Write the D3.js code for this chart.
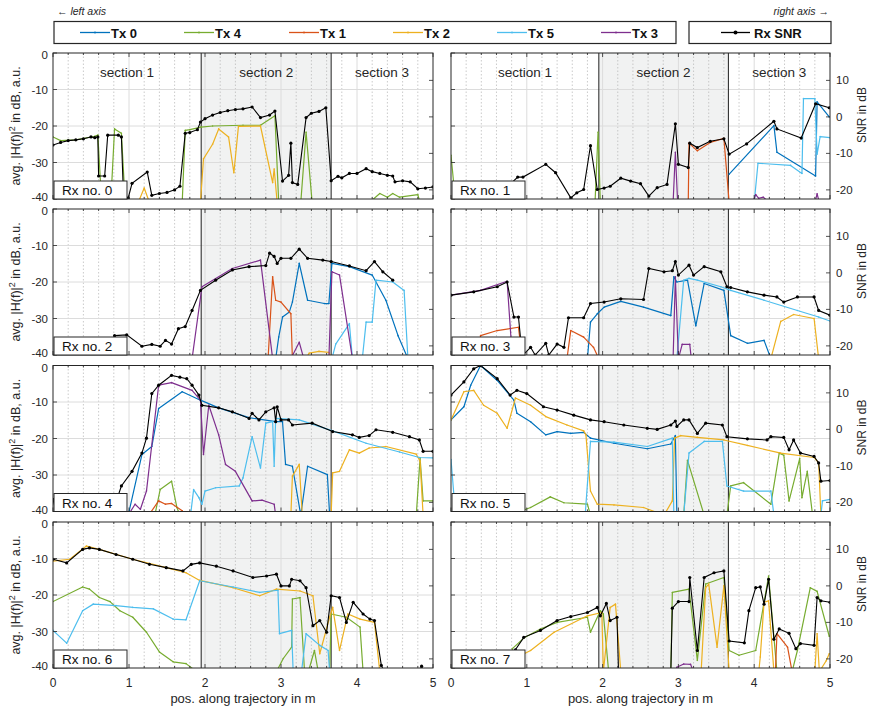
<!DOCTYPE html>
<html><head><meta charset="utf-8">
<script src="https://cdn.jsdelivr.net/npm/d3@7"></script>
<style>
body{margin:0;background:#fff;}
text{font-family:"Liberation Sans",Arial,Helvetica,sans-serif;}
</style></head>
<body><svg id="c" width="870" height="713"></svg>
<script>
// ---------------- DATA ----------------
const txNames = ["Tx 0","Tx 4","Tx 1","Tx 2","Tx 5","Tx 3"];
const txColors = ["#0072BD","#77AC30","#D95319","#EDB120","#4DBEEE","#7E2F8E"];
const xTickLabels = [0,1,2,3,4,5];
const leftTicks = [0,-10,-20,-30,-40];
const rightTicks = [10,0,-10,-20];
const sectionNames = ["section 1","section 2","section 3"];
const sectionBounds = [0,1.95,3.66,5];
const rxNames = ["Rx no. 0","Rx no. 1","Rx no. 2","Rx no. 3","Rx no. 4","Rx no. 5","Rx no. 6","Rx no. 7"];

// Rx 0  (Tx values on left axis in dB, SNR on right axis in dB)
const rx0_snr=[[0,-7.7],[0.1,-7],[0.2,-6.5],[0.3,-6.3],[0.4,-6],[0.5,-5.5],[0.55,-5.7],[0.59,-5.5],[0.6,-16.2],[0.68,-16.2],[0.72,-5],[0.86,-5],[0.9,-5.5],[0.93,-23],[0.99,-22.2],[1.04,-18.2],[1.24,-15.1],[1.3,-21.5],[1.4,-21],[1.5,-20.7],[1.6,-20],[1.67,-19],[1.74,-4.5],[1.8,-4.3],[1.9,-3.5],[1.94,-1.4],[2.0,-0.5],[2.1,0.5],[2.2,1.2],[2.3,1.7],[2.4,2],[2.5,2.2],[2.62,2.7],[2.73,-0.2],[2.85,0.5],[2.92,1.6],[3.02,-17.6],[3.1,-16],[3.13,-7.2],[3.15,-18],[3.22,-18.5],[3.33,-0.2],[3.4,1],[3.5,1.5],[3.59,2.5],[3.66,-17.5],[3.75,-16.3],[3.8,-16.7],[3.9,-15.5],[4.0,-15.5],[4.12,-14.2],[4.2,-15],[4.3,-15.5],[4.4,-16],[4.47,-16.2],[4.5,-17.8],[4.6,-17.5],[4.7,-17.8],[4.8,-19.7],[4.9,-19.5],[5,-19.2]];
const rx0_tx0=[];
const rx0_tx4=[[0,-23],[0.1,-24],[0.3,-23.8],[0.55,-22.8],[0.59,-22.5],[0.64,-41],[0.76,-41],[0.81,-20.8],[0.9,-22],[0.95,-41],[1.7,-41],[1.74,-21.2],[1.8,-21],[1.95,-20.3],[2.1,-20],[2.5,-19.8],[2.73,-19.8],[2.92,-17.2],[2.97,-41],[3.26,-41],[3.33,-21.7],[3.41,-41],[4.16,-41],[4.3,-38.5],[4.4,-39.5],[4.47,-38.5],[4.56,-39.5],[4.8,-38.8],[4.83,-41]];
const rx0_tx1=[];
const rx0_tx2=[[1.12,-41],[1.2,-37],[1.27,-41],[1.94,-41],[1.98,-29],[2.1,-25],[2.18,-20.8],[2.31,-23],[2.38,-32.8],[2.44,-20.1],[2.73,-20],[2.89,-35.5],[2.91,-31.8],[2.95,-41]];
const rx0_tx5=[];
const rx0_tx3=[];

// Rx 1
const rx1_snr=[[0.52,-23.5],[0.88,-16.5],[0.95,-16.5],[1.25,-13],[1.38,-15.3],[1.58,-22.2],[1.66,-20.8],[1.75,-19.9],[1.84,-7.9],[1.93,-19.9],[2.02,-19.5],[2.1,-19],[2.24,-16.8],[2.37,-17.6],[2.5,-18.3],[2.61,-21.7],[2.72,-19.4],[2.85,-18.5],[2.96,-1.9],[3.0,-13],[3.13,-13.9],[3.15,-7.2],[3.25,-8.4],[3.42,-6.7],[3.6,-6],[3.67,-10.2],[3.9,-7.4],[4.26,-1.2],[4.3,-3.3],[4.62,-5.8],[4.81,3.6],[4.99,2.5]];
const rx1_tx0=[[3.67,-33.2],[4.26,-19.9],[4.3,-27.2],[4.81,-33.7],[4.83,-13.4],[4.99,-17.5]];
const rx1_tx4=[[0,-28],[0.06,-41],[1.9,-41],[1.94,-21.7],[1.97,-41]];
const rx1_tx1=[[3.13,-41],[3.14,-24.7],[3.25,-26.8],[3.42,-24.5],[3.6,-23.4],[3.67,-41]];
const rx1_tx2=[];
const rx1_tx5=[[4.0,-41],[4.05,-30.2],[4.48,-30.8],[4.63,-33],[4.65,-12.5],[4.8,-12.5],[4.83,-27.7],[4.87,-22.9],[5,-23.2]];
const rx1_tx3=[[2.93,-41],[2.96,-27.2],[2.99,-41],[3.98,-41],[4.02,-38.8],[4.06,-39.8],[4.12,-39.5],[4.2,-41],[4.8,-41],[4.83,-38.6],[4.86,-41]];

// Rx 2
const rx2_snr=[[0.81,-17.2],[0.97,-17],[1.17,-20.1],[1.3,-19.6],[1.41,-20.1],[1.48,-18.5],[1.56,-19.5],[1.65,-15.3],[1.74,-14.7],[1.83,-10.3],[1.94,-4.8],[2.14,-2],[2.36,0.8],[2.58,1.7],[2.8,2],[2.85,5.4],[2.91,4.5],[2.95,2.6],[3.0,4],[3.13,4],[3.24,6.5],[3.35,4],[3.55,3.5],[3.66,3.1],[3.9,1.9],[4.12,0.6],[4.23,3.1],[4.34,0.3],[4.47,-2]];
const rx2_tx0=[[2.93,-41],[2.97,-35.1],[3.02,-29.6],[3.11,-28.2],[3.15,-25.5],[3.24,-14.9],[3.35,-25],[3.57,-25.9],[3.63,-25.9],[3.67,-14.9],[3.9,-15.8],[4.2,-18.1],[4.38,-25],[4.54,-34.7],[4.67,-41]];
const rx2_tx4=[];
const rx2_tx1=[[2.83,-41],[2.89,-18.6],[2.93,-25],[3.0,-25.5],[3.13,-28.7],[3.15,-41]];
const rx2_tx2=[[3.33,-41],[3.37,-39.5],[3.5,-39],[3.63,-39.3],[3.67,-41]];
const rx2_tx5=[[3.67,-41],[3.72,-37],[3.9,-31.4],[3.94,-41],[4.07,-41],[4.12,-31],[4.2,-31],[4.25,-19.5],[4.47,-20],[4.62,-22.3],[4.67,-41]];
const rx2_tx3=[[1.83,-41],[1.96,-21.3],[2.36,-16.3],[2.73,-14],[2.89,-41],[3.13,-41],[3.24,-36.5],[3.3,-41],[3.63,-41],[3.67,-17.2],[3.77,-18.1],[3.94,-41]];

// Rx 3
const rx3_snr=[[0,-6.1],[0.3,-5.2],[0.61,-3.8],[0.74,-2.5],[0.83,-12.1],[0.89,-12.1],[0.94,-22.7],[1.05,-20.4],[1.11,-22.5],[1.25,-19.3],[1.29,-22.5],[1.4,-19.5],[1.49,-20.4],[1.55,-12.3],[1.75,-12.3],[1.84,-8.4],[2.02,-8],[2.24,-7.1],[2.54,-7.3],[2.61,1.2],[2.81,0.3],[2.92,0.6],[2.96,3.1],[3.0,-0.6],[3.14,2.1],[3.2,-0.6],[3.34,1.7],[3.56,0.3],[3.64,-3.8],[3.69,-4],[3.91,-5.2],[4.13,-6.1],[4.3,-6.6],[4.39,-8],[4.57,-6.6],[4.79,-6.6],[4.85,-10.3],[5,-11.6]];
const rx3_tx0=[[1.8,-41],[1.84,-31],[1.93,-28.7],[2.02,-26.9],[2.24,-25.3],[2.54,-26.9],[2.9,-29.2],[2.94,-18.6],[2.98,-20],[3.12,-19.5],[3.23,-32],[3.34,-20.4],[3.6,-22.3],[3.69,-34.7],[3.91,-36.8],[4.13,-36],[4.22,-41]];
const rx3_tx4=[];
const rx3_tx1=[[0.36,-41],[0.39,-34.7],[0.61,-33.3],[0.89,-32.4],[0.94,-41],[1.53,-41],[1.58,-33.3],[1.75,-35.1],[1.88,-37.9],[1.95,-41]];
const rx3_tx2=[[4.22,-41],[4.35,-30.8],[4.52,-28.9],[4.79,-30],[4.85,-41]];
const rx3_tx5=[[2.98,-41],[3.07,-19.5],[3.14,-19],[3.25,-19.5],[3.56,-21.3],[3.69,-22.3],[4.13,-25],[4.57,-27.8],[4.85,-29.6],[5,-30.7]];
const rx3_tx3=[[0,-23.6],[0.39,-22.3],[0.74,-19.8],[0.81,-41],[2.93,-41],[2.96,-18.6],[3.0,-41],[3.05,-37.1],[3.15,-37.1],[3.17,-41]];

// Rx 4
const rx4_snr=[[0,-19.2],[0.05,-23.5],[0.77,-23.5],[0.9,-15.5],[1.04,-11.5],[1.17,-6.5],[1.23,-2.4],[1.3,9.8],[1.39,12.1],[1.56,14.8],[1.67,14.3],[1.76,13.9],[1.83,12.1],[1.92,9.4],[1.96,6.6],[2.18,5.9],[2.36,4.8],[2.58,3],[2.62,4.4],[2.71,2.6],[2.8,4.8],[2.91,5.9],[2.93,2.1],[2.95,6.2],[3.0,2.6],[3.1,2.6],[3.15,1.2],[3.41,1.7],[3.68,-0.6],[3.94,-1.5],[4.03,-2.2],[4.16,-1.7],[4.25,-0.1],[4.47,-0.8],[4.69,-2],[4.82,-2.9],[4.87,-6],[5,-6]];
const rx4_tx0=[[0.99,-41],[1.17,-24.4],[1.3,-22.2],[1.39,-11.8],[1.7,-7.2],[1.94,-9.5],[2.18,-11.6],[2.58,-14.3],[2.93,-15.4],[3.02,-15.4],[3.06,-27.1],[3.15,-27.6],[3.26,-41],[3.35,-27.6],[3.61,-29.9],[3.64,-41]];
const rx4_tx4=[[1.34,-41],[1.41,-34],[1.56,-31.7],[1.63,-38.9],[1.67,-41],[4.78,-41],[4.83,-25.3],[4.87,-37.1],[5,-37.1]];
const rx4_tx1=[[1.26,-41],[1.39,-37.1],[1.48,-38],[1.56,-37.8],[1.7,-39.8],[1.72,-41]];
const rx4_tx2=[[3.13,-41],[3.15,-30.3],[3.24,-27.1],[3.28,-41],[3.66,-41],[3.68,-29.4],[3.77,-29],[3.9,-23.1],[4.03,-24],[4.16,-22.6],[4.38,-22.2],[4.78,-24.3],[4.83,-26.2],[4.87,-41]];
const rx4_tx5=[[1.81,-41],[1.85,-34],[1.92,-36.2],[1.96,-38],[2.0,-34.4],[2.14,-33.5],[2.45,-33],[2.5,-30.8],[2.62,-19.5],[2.73,-28.1],[2.8,-15.8],[2.89,-15.4],[2.91,-27.6],[2.93,-14.5],[3.24,-14.9],[3.68,-17.9],[4.12,-21.3],[4.56,-23.7],[4.82,-25.2],[5,-25.3]];
const rx4_tx3=[[0.99,-41],[1.08,-38],[1.15,-39.4],[1.23,-34.4],[1.39,-5.4],[1.56,-4.7],[1.83,-6.8],[1.94,-9.5],[1.98,-24.4],[2.05,-10.9],[2.18,-19],[2.27,-27.1],[2.4,-29],[2.62,-37.1],[2.75,-36.9],[2.91,-38],[2.93,-41]];

// Rx 5
const rx5_snr=[[0,9.4],[0.17,13],[0.3,16.6],[0.39,17.5],[0.61,13.9],[0.78,9.4],[0.87,10.7],[1.0,9.8],[1.22,6.2],[1.4,5.3],[1.62,3.9],[1.84,2.6],[2.02,2.1],[2.28,1.2],[2.59,0.3],[2.72,0],[2.9,1.2],[2.96,2.3],[2.98,0.8],[3.07,2.6],[3.14,2.6],[3.25,-1.1],[3.36,1.7],[3.58,1.2],[3.64,-2],[3.91,-2.6],[4.17,-2.9],[4.22,-2],[4.39,-2.2],[4.46,-5.6],[4.52,-2.9],[4.61,-6.5],[4.79,-7.4],[4.85,-9.2],[4.88,-14.2],[5,-14]];
const rx5_tx0=[[0,-14.9],[0.17,-11.3],[0.26,-5.4],[0.39,0],[0.61,-4.1],[0.83,-9.5],[0.87,-13.1],[1.05,-15.4],[1.25,-19],[1.4,-18.1],[1.58,-18.6],[1.75,-18.3],[1.84,-19.9],[2.15,-21.3],[2.59,-22.8],[2.9,-21.5],[2.96,-19.2],[2.98,-41]];
const rx5_tx4=[[0.78,-41],[1.05,-38.9],[1.31,-36],[1.49,-37.6],[1.8,-38],[1.84,-41],[3.07,-41],[3.12,-26],[3.34,-41],[3.64,-41],[3.69,-33],[3.86,-32.1],[4.0,-34.4],[4.22,-38],[4.33,-24],[4.39,-24.6],[4.46,-37.1],[4.6,-25.5],[4.63,-36.2],[4.7,-29],[4.77,-41]];
const rx5_tx1=[];
const rx5_tx2=[[0,-14.9],[0.17,-7.2],[0.3,-6.8],[0.43,-10.9],[0.61,-13.1],[0.74,-17.2],[0.85,-8.9],[1.05,-10.9],[1.25,-14],[1.53,-16.3],[1.75,-17.9],[1.78,-19],[1.84,-34.4],[1.93,-38],[2.15,-38.2],[2.54,-38.9],[2.81,-41],[2.92,-37.1],[2.95,-19.9],[3.03,-19.2],[3.25,-19.7],[3.6,-20.4],[3.91,-21.9],[4.35,-24],[4.79,-25.2],[4.85,-26.7],[4.88,-41]];
const rx5_tx5=[[0,-25.8],[0.06,-41],[1.77,-41],[1.84,-20.8],[2.15,-21],[2.59,-22.2],[2.92,-19.9],[2.94,-41],[3.07,-41],[3.14,-24],[3.34,-20.8],[3.58,-20.8],[3.64,-33],[3.86,-34.4],[4.22,-34.4],[4.26,-41],[4.88,-41],[4.9,-37.1],[5,-36.7]];
const rx5_tx3=[];

// Rx 6
const rx6_snr=[[0,7.3],[0.18,6.3],[0.39,10],[0.48,10.4],[0.61,10],[0.83,8.6],[1.05,7.3],[1.27,5.9],[1.49,5],[1.71,4.1],[1.82,5.9],[1.93,6.3],[2.15,5.4],[2.37,4.1],[2.63,2.3],[2.81,2.7],[2.94,3.2],[3.0,0],[3.11,0],[3.14,1.8],[3.25,1.4],[3.33,-0.5],[3.42,-10.9],[3.51,-9.5],[3.6,-12.7],[3.66,-2.7],[3.77,-3.2],[3.86,-10],[3.95,-4.5],[4.08,-7.7],[4.17,-9.1],[4.23,-9.5],[4.32,-21.8],[4.36,-23.5],[4.82,-23.5],[4.85,-22],[4.88,-23.5]];
const rx6_tx0=[];
const rx6_tx4=[[0,-21.8],[0.39,-17.8],[0.48,-18.4],[0.61,-20.7],[0.75,-21.8],[0.88,-24.3],[1.05,-26.1],[1.23,-30.2],[1.4,-35.6],[1.58,-38.3],[1.75,-38.8],[1.89,-41],[2.94,-41],[3.03,-37.4],[3.14,-34.3],[3.15,-21.1],[3.25,-20.7],[3.31,-41],[3.36,-41],[3.44,-35.2],[3.49,-41],[3.64,-41],[3.66,-25.2],[3.86,-26.1],[4.04,-28.8],[4.08,-41]];
const rx6_tx1=[];
const rx6_tx2=[[0,-10.7],[0.22,-10.2],[0.44,-6.6],[0.61,-7.5],[1.05,-10.2],[1.49,-12.5],[1.75,-13.9],[1.93,-16],[2.37,-18],[2.72,-20.2],[2.94,-18.4],[3.25,-18.9],[3.42,-20.2],[3.51,-36.1],[3.64,-26.1],[3.68,-23.4],[3.77,-35.2],[3.88,-25.2],[4.04,-26.6],[4.23,-27.5],[4.3,-41]];
const rx6_tx5=[[0,-29.7],[0.18,-33.2],[0.39,-24.3],[0.53,-22.5],[0.83,-22.9],[1.05,-23.4],[1.32,-23.8],[1.58,-26.6],[1.75,-26.8],[1.93,-16.1],[2.37,-17.8],[2.72,-19.3],[2.96,-18.7],[2.98,-30.6],[3.14,-29.7],[3.16,-41],[3.27,-41],[3.33,-30.6],[3.51,-33.8],[3.62,-35.2],[3.64,-41]];
const rx6_tx3=[];

// Rx 7
const rx7_snr=[[0.8,-23.5],[0.85,-17.5],[0.96,-14.1],[1.18,-12.2],[1.4,-9.5],[1.58,-8.4],[1.8,-7.3],[1.93,-5.9],[1.97,-8.2],[2.05,-4.8],[2.1,-9.5],[2.19,-8.6],[2.21,-23.5],[2.9,-23.5],[2.92,-6.1],[3.0,-4.3],[3.14,-4.3],[3.15,2.3],[3.25,-17.7],[3.34,2.3],[3.47,3.6],[3.6,4.1],[3.67,-15.1],[3.87,-15.6],[3.93,-6.8],[4.02,-0.5],[4.08,-0.3],[4.13,-5],[4.19,1.8],[4.26,-14.6],[4.33,-11.8],[4.46,-13],[4.55,-17.2],[4.61,-15.8],[4.79,-16.3],[4.83,-3.2],[4.88,-4.1],[5,-4.5]];
const rx7_tx0=[];
const rx7_tx4=[[0.78,-41],[0.81,-34.7],[0.96,-31.8],[1.18,-29.3],[1.4,-27.5],[1.8,-26.1],[1.84,-30.2],[1.97,-24.3],[2.01,-25.2],[2.08,-41],[2.9,-41],[2.92,-19.3],[3.14,-18.4],[3.25,-37.9],[3.36,-17],[3.6,-15.2],[3.67,-35.2],[3.8,-36.5],[4.02,-35.2],[4.19,-14.8],[4.3,-41],[4.5,-41],[4.57,-35.2],[4.74,-18],[4.83,-19],[4.99,-31.3]];
const rx7_tx1=[[4.28,-41],[4.3,-30.6],[4.44,-34.3],[4.5,-41]];
const rx7_tx2=[[0.75,-41],[0.88,-37],[1.05,-35.2],[1.36,-30.2],[1.8,-25.7],[1.99,-24.8],[2.01,-41],[2.1,-23.4],[2.17,-22.5],[2.24,-41],[3.3,-41],[3.36,-18],[3.4,-17],[3.51,-34.3],[3.6,-17.5],[3.67,-41],[4.06,-41],[4.08,-37],[4.13,-22],[4.19,-21.6],[4.26,-41],[4.8,-41],[4.83,-30.6],[4.86,-41],[4.95,-38],[4.99,-36.1]];
const rx7_tx5=[];
const rx7_tx3=[[2.95,-41],[2.98,-39.8],[3.07,-38.9],[3.16,-39],[3.2,-41]];

// --------------- BUILD ---------------
const panels=[
 {snr:rx0_snr,tx:[rx0_tx0,rx0_tx4,rx0_tx1,rx0_tx2,rx0_tx5,rx0_tx3]},
 {snr:rx1_snr,tx:[rx1_tx0,rx1_tx4,rx1_tx1,rx1_tx2,rx1_tx5,rx1_tx3]},
 {snr:rx2_snr,tx:[rx2_tx0,rx2_tx4,rx2_tx1,rx2_tx2,rx2_tx5,rx2_tx3]},
 {snr:rx3_snr,tx:[rx3_tx0,rx3_tx4,rx3_tx1,rx3_tx2,rx3_tx5,rx3_tx3]},
 {snr:rx4_snr,tx:[rx4_tx0,rx4_tx4,rx4_tx1,rx4_tx2,rx4_tx5,rx4_tx3]},
 {snr:rx5_snr,tx:[rx5_tx0,rx5_tx4,rx5_tx1,rx5_tx2,rx5_tx5,rx5_tx3]},
 {snr:rx6_snr,tx:[rx6_tx0,rx6_tx4,rx6_tx1,rx6_tx2,rx6_tx5,rx6_tx3]},
 {snr:rx7_snr,tx:[rx7_tx0,rx7_tx4,rx7_tx1,rx7_tx2,rx7_tx5,rx7_tx3]}
];

const svg=d3.select("#c");
const colX=[[53,433],[451,830]];
const rowTop=[53,209,365.5,522];
const PH=146;
const axisCol="#262626";

const y=d3.scaleLinear().domain([-40,0]).range([PH,0]);
const yR=d3.scaleLinear().domain([-22.5,17.5]).range([PH,0]);

panels.forEach((p,k)=>{
  const r=Math.floor(k/2), c=k%2;
  const x0=colX[c][0], x1=colX[c][1], w=x1-x0;
  const x=d3.scaleLinear().domain([0,5]).range([0,w]);
  const g=svg.append("g").attr("transform",`translate(${x0},${rowTop[r]})`);
  const cid="clip"+k;
  g.append("clipPath").attr("id",cid).append("rect").attr("width",w).attr("height",PH);
  g.append("rect").attr("width",w).attr("height",PH).attr("fill","#fff");
  // section 2 shading
  g.append("rect").attr("x",x(sectionBounds[1])).attr("width",x(sectionBounds[2])-x(sectionBounds[1]))
    .attr("height",PH).attr("fill","#f1f2f2");
  // minor grid
  const minor=x.ticks(25).filter(v=>Math.abs(v-Math.round(v))>1e-6);
  g.selectAll(".mg").data(minor).join("line").attr("x1",d=>x(d)).attr("x2",d=>x(d))
    .attr("y1",0).attr("y2",PH).attr("stroke","#b5b5b5").attr("stroke-width",0.7).attr("stroke-dasharray","1.5,2");
  // major grid
  g.selectAll(".gx").data(x.ticks(5).filter(v=>v>0&&v<5)).join("line").attr("x1",d=>x(d)).attr("x2",d=>x(d))
    .attr("y1",0).attr("y2",PH).attr("stroke","#dcdcdc").attr("stroke-width",1);
  g.selectAll(".gy").data(leftTicks.filter(v=>v>-40&&v<0)).join("line").attr("y1",d=>y(d)).attr("y2",d=>y(d))
    .attr("x1",0).attr("x2",w).attr("stroke","#dcdcdc").attr("stroke-width",1);
  // section boundaries
  g.selectAll(".sb").data([sectionBounds[1],sectionBounds[2]]).join("line").attr("x1",d=>x(d)).attr("x2",d=>x(d))
    .attr("y1",0).attr("y2",PH).attr("stroke","#333").attr("stroke-width",1.1);
  // series
  const gs=g.append("g").attr("clip-path",`url(#${cid})`);
  const lineL=d3.line().x(d=>x(d[0])).y(d=>y(d[1]));
  p.tx.forEach((s,i)=>{
    if(!s.length) return;
    gs.append("path").datum(s).attr("d",lineL).attr("fill","none").attr("stroke",txColors[i])
      .attr("stroke-width",1.2).attr("stroke-linejoin","round");
    gs.selectAll(null).data(s).join("circle").attr("cx",d=>x(d[0])).attr("cy",d=>y(d[1])).attr("r",0.8).attr("fill",txColors[i]);
  });
  const lineR=d3.line().x(d=>x(d[0])).y(d=>yR(d[1]));
  gs.append("path").datum(p.snr).attr("d",lineR).attr("fill","none").attr("stroke","#000").attr("stroke-width",1.1);
  gs.selectAll(null).data(p.snr).join("circle").attr("cx",d=>x(d[0])).attr("cy",d=>yR(d[1])).attr("r",1.6).attr("fill","#000");
  // border
  g.append("rect").attr("width",w).attr("height",PH).attr("fill","none").attr("stroke",axisCol).attr("stroke-width",1);
  // ticks
  const tk=g.append("g").attr("stroke",axisCol).attr("stroke-width",0.8);
  leftTicks.forEach(v=>tk.append("line").attr("x1",0).attr("x2",4).attr("y1",y(v)).attr("y2",y(v)));
  rightTicks.forEach(v=>tk.append("line").attr("x1",w-4).attr("x2",w).attr("y1",yR(v)).attr("y2",yR(v)));
  x.ticks(25).forEach(v=>{
    const isMaj=Math.abs(v-Math.round(v))<1e-6; const L=isMaj?4:2;
    tk.append("line").attr("x1",x(v)).attr("x2",x(v)).attr("y1",0).attr("y2",L);
    tk.append("line").attr("x1",x(v)).attr("x2",x(v)).attr("y1",PH-L).attr("y2",PH);
  });
  // Rx label
  g.append("rect").attr("x",1).attr("y",PH-18).attr("width",73).attr("height",18).attr("fill","#fff").attr("stroke",axisCol).attr("stroke-width",1);
  g.append("text").attr("x",9).attr("y",PH-4).attr("font-size",13.5).attr("fill","#111").text(rxNames[k]);
  // section labels
  if(r===0){
    sectionNames.forEach((s,i)=>{
      g.append("text").attr("x",x((sectionBounds[i]+sectionBounds[i+1])/2)).attr("y",24)
        .attr("text-anchor","middle").attr("font-size",13.5).attr("fill",axisCol).text(s);
    });
  }
  // tick labels
  if(c===0){
    leftTicks.forEach(v=>g.append("text").attr("x",-5).attr("y",y(v)+(v===0?2:(v===-40?-2:0))).attr("dy","0.35em").attr("text-anchor","end")
      .attr("font-size",11.5).attr("fill",axisCol).text(v));
    const yl=svg.append("text").attr("transform",`translate(20,${rowTop[r]+PH/2}) rotate(-90)`)
      .attr("text-anchor","middle").attr("font-size",12.5).attr("fill",axisCol);
    yl.append("tspan").text("avg. |H(f)|");
    yl.append("tspan").attr("dy",-5).attr("font-size",9).text("2");
    yl.append("tspan").attr("dy",5).text(" in dB, a.u.");
  } else {
    rightTicks.forEach(v=>g.append("text").attr("x",w+6).attr("y",yR(v)).attr("dy","0.35em").attr("text-anchor","start")
      .attr("font-size",11.5).attr("fill",axisCol).text(v));
    svg.append("text").attr("transform",`translate(866,${rowTop[r]+62}) rotate(-90)`)
      .attr("text-anchor","middle").attr("font-size",12).attr("fill",axisCol).text("SNR in dB");
  }
  if(r===3){
    xTickLabels.forEach(v=>g.append("text").attr("x",x(v)).attr("y",PH+19).attr("text-anchor","middle")
      .attr("font-size",12).attr("fill",axisCol).text(v));
    g.append("text").attr("x",w/2).attr("y",PH+35).attr("text-anchor","middle").attr("font-size",13)
      .attr("fill",axisCol).text("pos. along trajectory in m");
  }
});

// legend
svg.append("text").attr("x",57).attr("y",15).attr("font-size",10.5).attr("font-style","italic").attr("fill",axisCol).text("← left axis");
svg.append("text").attr("x",829).attr("y",15).attr("text-anchor","end").attr("font-size",10.5).attr("font-style","italic").attr("fill",axisCol).text("right axis →");
svg.append("rect").attr("x",54).attr("y",21.5).attr("width",622).attr("height",22).attr("fill","#fff").attr("stroke",axisCol).attr("stroke-width",1.2);
svg.append("rect").attr("x",689).attr("y",21.5).attr("width",142).attr("height",22).attr("fill","#fff").attr("stroke",axisCol).attr("stroke-width",1.2);
const legX=[80,184,289,393,497,601];
txNames.forEach((n,i)=>{
  svg.append("line").attr("x1",legX[i]).attr("x2",legX[i]+30).attr("y1",32.5).attr("y2",32.5).attr("stroke",txColors[i]).attr("stroke-width",1.3);
  svg.append("circle").attr("cx",legX[i]+15).attr("cy",32.5).attr("r",0.9).attr("fill",txColors[i]);
  svg.append("text").attr("x",legX[i]+31).attr("y",37.5).attr("font-size",13).attr("font-weight","bold").attr("fill","#111").text(n);
});
svg.append("line").attr("x1",721).attr("x2",750).attr("y1",32.5).attr("y2",32.5).attr("stroke","#000").attr("stroke-width",1.3);
svg.append("circle").attr("cx",735.5).attr("cy",32.5).attr("r",2).attr("fill","#000");
svg.append("text").attr("x",754).attr("y",37.5).attr("font-size",13).attr("font-weight","bold").attr("fill","#111").text("Rx SNR");
</script></body></html>
